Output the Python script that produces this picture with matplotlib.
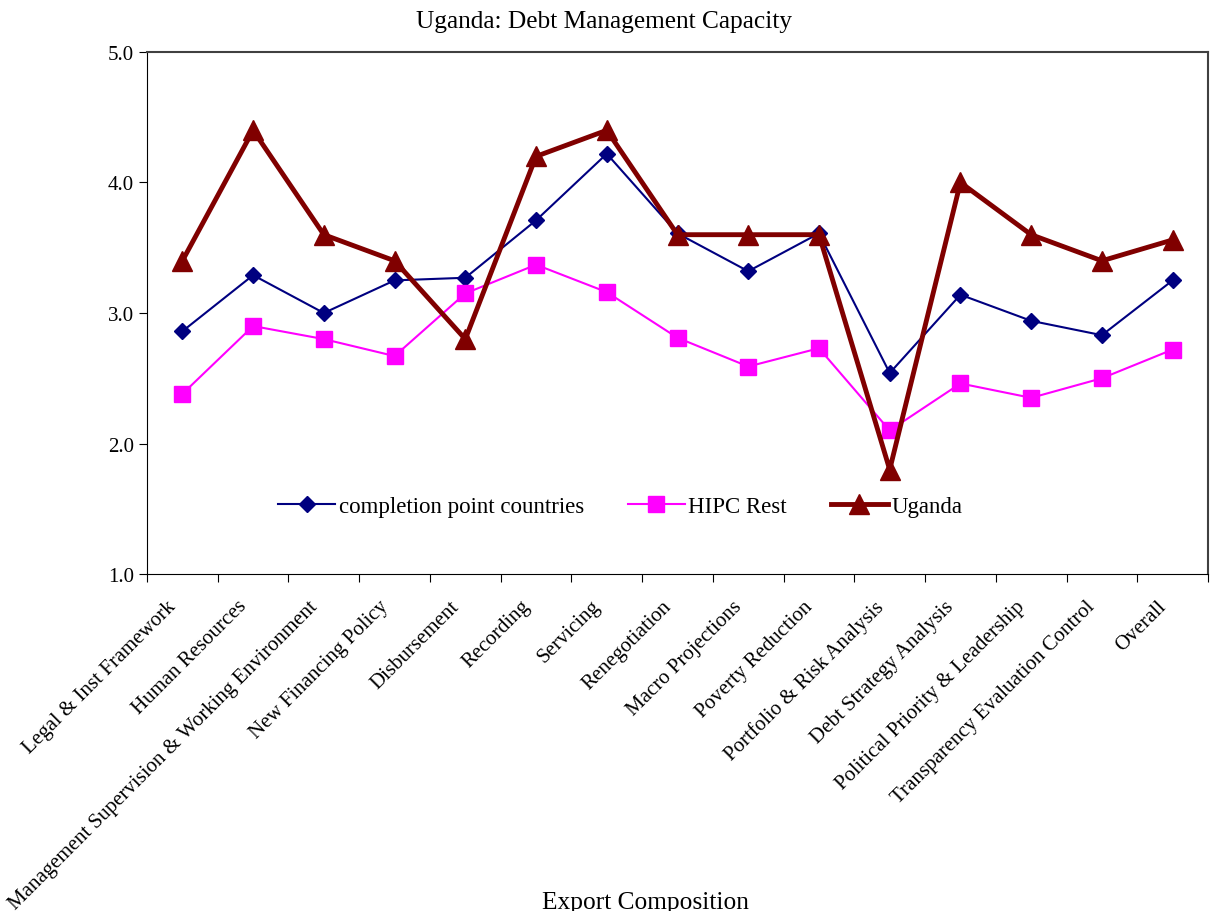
"""
Uganda: debt management capacity scores compared with HIPC groups.
"""

import matplotlib
matplotlib.use("Agg")
from matplotlib import pyplot as plt
from matplotlib.transforms import ScaledTranslation

CATEGORIES = [
    "Legal & Inst Framework",
    "Human Resources",
    "Management Supervision & Working Environment",
    "New Financing Policy",
    "Disbursement",
    "Recording",
    "Servicing",
    "Renegotiation",
    "Macro Projections",
    "Poverty Reduction",
    "Portfolio & Risk Analysis",
    "Debt Strategy Analysis",
    "Political Priority & Leadership",
    "Transparency Evaluation Control",
    "Overall",
]

COMPLETION_POINT = [2.86, 3.29, 3.00, 3.25, 3.27, 3.71, 4.22, 3.61, 3.32,
                    3.61, 2.54, 3.14, 2.94, 2.83, 3.25]
HIPC_REST = [2.38, 2.90, 2.80, 2.67, 3.15, 3.37, 3.16, 2.81, 2.59, 2.73,
             2.10, 2.46, 2.35, 2.50, 2.72]
UGANDA = [3.4, 4.4, 3.6, 3.4, 2.8, 4.2, 4.4, 3.6, 3.6, 3.6, 1.8, 4.0, 3.6,
          3.4, 3.56]

plt.rcParams["font.family"] = ["Liberation Serif", "DejaVu Serif"]

fig = plt.figure(figsize=(12.12, 9.12), dpi=100)
ax = fig.add_axes([0.1213, 0.3695, 0.8754, 0.5724])

x = range(len(CATEGORIES))
ax.plot(x, COMPLETION_POINT, color="#000080", lw=1.5, marker="D",
        ms=8, label="completion point countries")
ax.plot(x, HIPC_REST, color="#FF00FF", lw=1.5, marker="s",
        ms=11, label="HIPC Rest")
ax.plot(x, UGANDA, color="#800000", lw=3.5, marker="^",
        ms=14, label="Uganda")

ax.set_xlim(-0.5, len(CATEGORIES) - 0.5)
ax.set_ylim(1.0, 5.0)
ax.set_yticks([1.0, 2.0, 3.0, 4.0, 5.0])
ax.set_yticklabels([f"{v:.1f}" for v in [1.0, 2.0, 3.0, 4.0, 5.0]],
                   fontsize=15)

# ticks sit between categories, labels sit at the categories
ax.set_xticks([i - 0.5 for i in range(len(CATEGORIES) + 1)])
ax.set_xticklabels([])
ax.set_xticks(list(x), minor=True)
ax.set_xticklabels(CATEGORIES, minor=True, rotation=45, ha="right",
                   rotation_mode="anchor", fontsize=15)
ax.tick_params(axis="x", which="minor", length=0, pad=14)
ax.tick_params(axis="both", which="major", direction="out", length=6,
               color="black")
shift = ScaledTranslation(-0.16, -0.03, fig.dpi_scale_trans)
for lbl in ax.get_xticklabels(minor=True):
    lbl.set_transform(lbl.get_transform() + shift)

ax.spines["top"].set_color("#404040")
ax.spines["right"].set_color("#404040")
for side in ["top", "right"]:
    ax.spines[side].set_linewidth(1.5)

fig.text(0.4985, 1 - 22 / 912, "Uganda: Debt Management Capacity",
         fontsize=18.3, ha="center", va="center")
fig.text(645 / 1212, 1 - 903 / 912, "Export Composition",
         fontsize=18.3, ha="center", va="center")

ax.legend(loc="center", bbox_to_anchor=(0.446, 0.129), ncol=3,
          frameon=False, fontsize=16.5, handlelength=2.5,
          columnspacing=1.9, handletextpad=0.15)

fig.savefig("out.png", dpi=100)
